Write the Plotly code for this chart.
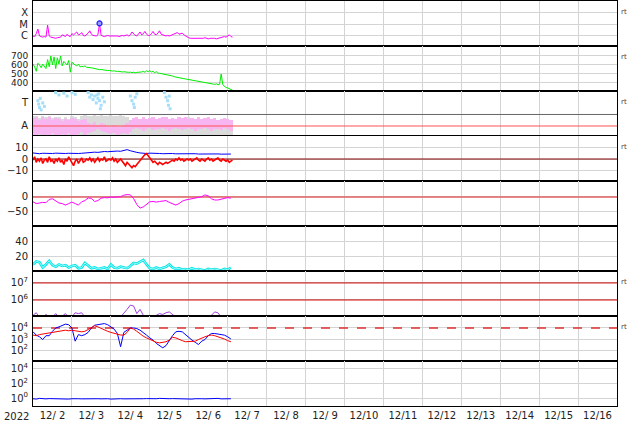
import numpy as np
import pandas as pd
import plotly.graph_objects as go
from plotly.subplots import make_subplots

# ---------------- time base ----------------
T0 = pd.Timestamp("2022-12-02 00:00")
T_END = pd.Timestamp("2022-12-17 00:00")
t1 = T0 + pd.to_timedelta(np.arange(124), unit="h")        # hourly
t2 = T0 + pd.to_timedelta(np.arange(0, 124, 2), unit="h")  # 2-hourly

# ---------------- data ----------------
# Panel 1: X-ray flux (log10 W/m2), hourly
xray_log = [-6.0, -6.05, -5.8, -5.4, -6.0, -6.05, -6.1, -6.05, -6.1, -5.05,
            -6.0, -6.1, -6.15, -6.2, -6.2, -6.15, -6.15, -6.1, -5.9, -6.0,
            -6.05, -5.85, -6.0, -6.05, -5.8, -5.9, -5.75, -5.65, -5.9, -5.85,
            -5.7, -5.95, -6.0, -5.9, -5.75, -5.55, -5.85, -5.95, -6.0, -6.0,
            -5.9, -4.95, -5.95, -6.0, -6.05, -6.0, -5.95, -6.0, -6.0, -5.95,
            -6.0, -5.95, -6.0, -6.05, -6.0, -5.95, -6.0, -5.95, -5.9, -6.0,
            -5.9, -5.65, -5.85, -5.95, -6.0, -5.85, -5.65, -5.9, -5.8, -5.6,
            -5.85, -5.95, -5.95, -5.8, -5.6, -5.85, -5.9, -5.75, -5.55, -5.85,
            -5.9, -5.95, -6.0, -5.95, -6.0, -5.95, -5.9, -5.85, -5.8, -5.7,
            -5.85, -5.8, -5.75, -5.9, -6.0, -6.1, -6.15, -6.2, -6.2, -6.25,
            -6.2, -6.25, -6.2, -6.2, -6.25, -6.2, -6.15, -6.2, -6.25, -6.2,
            -6.2, -6.15, -6.2, -6.25, -6.2, -6.2, -6.15, -6.1, -6.05, -6.1,
            -6.0, -5.9, -6.05, -6.1]
flare_time = [T0 + pd.Timedelta(hours=41)]
flare_log = [-4.9]

# Panel 2: solar wind speed (km/s), hourly
speed = [610, 580, 530, 620, 600, 570, 610, 590, 560,
         660, 580, 700, 600, 690, 560, 680, 610, 700, 590,
         640, 620, 600, 650, 520, 630, 610, 600, 590, 610, 580,
         585, 580, 590, 575, 570, 572, 568, 565, 560, 562, 555, 548,
         550, 545, 545, 540, 538, 540, 535, 532, 535, 530, 528, 530, 525, 522, 525, 520, 522, 518, 520,
         515, 520, 512, 518, 520, 515, 522, 530, 520, 535, 525, 540, 520, 530, 515, 525, 510, 508,
         505, 500, 500, 495, 490, 485, 480, 478, 470, 465, 462, 458, 455, 452, 448, 445, 442,
         440, 435, 432, 428, 425, 420, 418, 415, 410, 408, 405, 400, 398, 395, 390, 388,
         385, 390, 380, 385, 500, 380, 360, 350, 345, 335, 330, 320]

# Panel 3: A / T classification bands, 2-hourly (low, high)
pink_low = [0.2, 0.15, 0.3, 0.1, 0.25, 0.2, 0.35, 0.15, 0.2, 0.3,
            0.25, 0.4, 0.2, 0.15, 0.3, 0.5, 0.2, 0.35, 0.5, 0.6,
            0.7, 0.6, 0.5, 0.4, 0.3, 0.35, 0.25, 0.3, 0.4, 0.3,
            0.5, 0.7, 0.8, 0.75, 0.6, 0.7, 0.8, 0.65, 0.7, 0.75,
            0.8, 0.7, 0.6, 0.75, 0.8, 0.7, 0.65, 0.75, 0.8, 0.7,
            0.6, 0.7, 0.75, 0.8, 0.7, 0.6, 0.75, 0.7, 0.65, 0.8,
            0.7, 0.6]
pink_high = [1.7, 1.8, 1.5, 1.75, 1.6, 1.8, 1.55, 1.7, 1.6, 1.45,
             1.65, 1.5, 1.7, 1.6, 1.4, 1.55, 1.65, 1.3, 1.2, 1.35,
             1.1, 1.25, 1.2, 1.0, 0.9, 1.1, 1.0, 0.95, 1.05, 1.3,
             1.5, 1.7, 1.75, 1.6, 1.8, 1.65, 1.7, 1.75, 1.6, 1.7,
             1.75, 1.8, 1.65, 1.7, 1.6, 1.75, 1.7, 1.8, 1.6, 1.7,
             1.65, 1.75, 1.6, 1.7, 1.8, 1.6, 1.7, 1.55, 1.65, 1.7,
             1.6, 1.5]
gray_low = [0.2, 0.15, 0.2, 0.25, 0.2, 0.15, 0.2, 0.2, 0.25, 0.2,
            0.15, 0.2, 0.2, 0.25, 0.2, 0.15, 0.2, 0.2, 0.25, 0.2,
            0.15, 0.2, 0.2, 0.25, 0.2, 0.15, 0.2, 0.2, 0.25, 0.2,
            0.15, 0.2, 0.2, 0.25, 0.2, 0.15, 0.2, 0.2, 0.25, 0.2,
            0.15, 0.2, 0.2, 0.25, 0.2, 0.15, 0.2, 0.2, 0.25, 0.2,
            0.15, 0.2, 0.2, 0.25, 0.2, 0.15, 0.2, 0.2, 0.25, 0.2,
            0.15, 0.2]
gray_high = [1.85, 1.9, 1.7, 1.85, 1.75, 1.9, 1.7, 1.8, 1.75, 1.6,
             1.8, 1.65, 1.85, 1.75, 1.6, 1.9, 1.95, 1.85, 1.9, 1.95,
             1.9, 1.95, 1.85, 1.9, 1.95, 1.9, 1.85, 1.95, 1.9, 1.8,
             1.1, 0.9, 0.85, 0.9, 1.0, 0.85, 0.9, 0.95, 0.85, 0.9,
             0.9, 0.85, 0.95, 0.9, 1.0, 0.9, 0.85, 1.6, 1.8, 0.9,
             0.85, 0.9, 0.95, 0.85, 0.9, 1.0, 0.85, 0.9, 0.95, 0.9,
             0.85, 0.9]
t_dots_hours = [3, 3.5, 4, 4.5, 5, 6, 7,
                14, 16, 19, 21, 24, 26,
                34, 35, 36, 37, 38, 39, 39.5, 40, 40.5, 41, 41.5, 42, 43, 44,
                60, 61, 62, 62.5, 63, 64,
                81, 82, 83, 83.5, 84, 84.5]
t_dots_level = [3.2, 2.9, 2.6, 3.4, 2.4, 3.0, 2.7,
                3.9, 3.7, 3.85, 3.6, 3.9, 3.75,
                3.9, 3.5, 3.7, 3.3, 3.6, 3.0, 3.7, 3.4, 3.8, 3.2, 2.5, 2.8, 3.5, 3.1,
                3.6, 3.2, 2.9, 2.6, 3.5, 3.8,
                3.9, 3.5, 3.2, 2.8, 3.6, 2.5]

# Panel 4: IMF Bt (2-hourly) and Bz (hourly), nT
bt = [5.5, 5, 4.8, 5.2, 5, 4.6, 5, 5.3, 5, 4.8, 5,
      5.2, 5, 4.8, 5, 5.2, 5.5, 5.8, 6, 6.2, 6,
      6.5, 6.8, 6.6, 7, 6.8, 7.2, 7, 7.5, 8.5, 7.5,
      6.5, 6, 5.5, 5.2, 5, 5.3, 5, 5.2, 5, 4.8,
      5, 4.8, 5, 4.7, 4.8, 4.6, 4.8, 4.5, 4.6, 4.8,
      4.5, 4.6, 4.4, 4.5, 4.8, 4.5, 4.6, 4.4, 4.5, 4.3, 4.5]
bz = [-1, 2, -3, 0, -2, 1, -4, -1, 0, -3, 2, -2,
      -1, -4, 0, -2, 1, -3, -1, -5, 0, -2, 2, -1,
      -3, -6, -2, 0, -4, -1, 1, -3, -2, 0, -1, 1,
      -2, 0, -3, -1, 1, -2, 0, -1, 2, -2, -1, 0,
      -1, 1, -2, 0, -3, -1, 0, -2, -4, -6, -3, -5,
      -7, -8, -6, -7, -5, -3, -1, 1, 3, 4, 5, 3,
      1, -1, -3, -2, -4, -5, -3, -4, -5, -4, -3, -4,
      -3, -2, -1, -2, 0, -1, 1, -1, 0, -2, -1, 0,
      -1, 0, -2, -1, 0, 1, -1, -2, 0, -1, -2, 0,
      1, -1, 0, -2, -1, 0, 1, -1, -2, 0, -1, -2,
      -1, -3, -2, -1]

# Panel 5: Dst (nT), 2-hourly
dst = [-16, -22, -20, -18, -19, -8, -6, -12, -20, -22,
       -27, -22, -17, -22, -27, -16, -12, -3, -5, -15,
       -12, -4, -2, -3, 0, -1, 0, 1, 6, 8,
       7, -5, -25, -37, -33, -25, -16, -15, -17, -15,
       -14, -12, -18, -22, -27, -22, -14, -10, -8, -5,
       -3, -1, 1, 7, 4, -6, -10, -10, -8, -5,
       -2, -4]

# Panel 6: density, 2-hourly
density = [10, 14, 13, 6, 10, 15, 9, 7, 10, 8,
           9, 6, 8, 9, 5, 6, 12, 8, 5, 6,
           4, 5, 6, 4, 10, 6, 5, 7, 6, 5,
           8, 12, 11, 14, 16, 10, 5, 4, 6, 4,
           5, 7, 10, 6, 4, 5, 3, 4, 3, 5,
           3, 4, 3, 2, 4, 3, 4, 3, 2, 4,
           3, 6]

# Panel 7: electron flux, log10, 2-hourly
e_flux_log = [5.1, 5.25, 5.0, 5.0, 5.15, 5.0, 5.0, 5.2, 5.0, 5.05,
              5.2, 5.0, 5.0, 5.25, 5.2, 5.25, 5.0, 4.95, 4.9, 4.9,
              4.9, 4.9, 4.9, 4.9, 4.9, 4.9, 4.95, 5.0, 5.2, 5.45,
              5.7, 5.65, 5.2, 5.45, 5.1, 4.95, 4.9, 4.9, 5.1, 5.2,
              5.15, 5.25, 5.3, 5.15, 5.0, 4.95, 4.9, 4.9, 4.9, 4.9,
              4.9, 4.95, 5.1, 5.0, 4.95, 5.1, 5.3, 5.25, 5.0, 4.95,
              4.9, 4.9]

# Panel 8: two flux series, log10, 2-hourly
flux_blue_log = [3.66, 3.35, 3.2, 2.95, 3.3, 3.3, 3.7, 4.0, 4.1, 4.25,
                 4.35, 4.3, 4.0, 2.8, 3.4, 3.3, 3.4, 3.6, 4.0, 4.25,
                 4.3, 4.4, 4.4, 4.3, 4.1, 3.9, 3.5, 2.3, 3.6, 3.8,
                 4.0, 4.0, 3.95, 3.8, 3.6, 3.35, 3.1, 2.9, 2.6, 2.4,
                 2.2, 2.4, 2.9, 3.3, 3.65, 3.7, 3.65, 3.4, 3.1, 2.9,
                 2.7, 2.5, 2.8, 2.95, 3.3, 3.5, 3.5, 3.45, 3.45, 3.35,
                 3.2, 3.0]
flux_red_log = [3.36, 3.3, 3.4, 3.45, 3.5, 3.55, 3.6, 3.6, 3.7, 3.75,
                3.8, 3.75, 3.8, 3.75, 3.7, 3.65, 3.7, 3.85, 4.05, 4.2,
                4.1, 3.95, 3.8, 3.7, 3.6, 3.5, 3.45, 3.36, 3.35, 3.6,
                4.0, 3.9, 3.7, 3.45, 3.25, 3.1, 2.95, 2.85, 2.7, 2.65,
                2.7, 2.75, 2.9, 3.15, 3.1, 2.95, 2.85, 2.75, 2.75, 2.75,
                2.8, 2.95, 3.1, 3.2, 3.3, 3.36, 3.3, 3.2, 3.15, 3.0,
                2.85, 2.75]

# Panel 9: flux near 10^0, log10, 2-hourly
low_flux_log = [-0.1, -0.15, -0.05, -0.1, -0.12, -0.08, -0.1, -0.05, -0.12, -0.1,
                -0.08, -0.15, -0.1, -0.05, -0.1, -0.12, -0.1, -0.08, -0.1, -0.05,
                -0.1, -0.12, -0.08, -0.1, -0.15, -0.1, -0.05, -0.1, -0.12, -0.1,
                -0.08, -0.1, -0.05, -0.12, -0.1, -0.08, -0.1, -0.15, -0.1, -0.05,
                -0.1, -0.12, -0.1, -0.08, -0.1, -0.05, -0.12, -0.1, -0.08, -0.15,
                -0.1, -0.05, -0.1, -0.12, -0.1, -0.08, -0.1, -0.05, -0.12, -0.1,
                -0.08, -0.1]

# reference levels
A_LEVEL = 1
AT_DIVIDER = 2
ZERO = 0
E_THRESH = [1e6, 1e7]
P_THRESH = 1e4

# ---------------- figure ----------------
fig = make_subplots(rows=9, cols=1, shared_xaxes=True, vertical_spacing=0)
span = [T0, T_END]


def hline(y, row, color, width=1, dash="solid"):
    fig.add_trace(go.Scatter(x=span, y=[y, y], mode="lines",
                             line=dict(color=color, width=width, dash=dash),
                             hoverinfo="skip"), row=row, col=1)


# 1 X-ray
fig.add_trace(go.Scatter(x=t1, y=xray_log, mode="lines",
                         line=dict(color="#ff00ff", width=1)), row=1, col=1)
fig.add_trace(go.Scatter(x=flare_time, y=flare_log, mode="markers",
                         marker=dict(symbol="circle", size=5, color="#9a9aff",
                                     line=dict(color="#2020ff", width=1.2))), row=1, col=1)

# 2 speed
fig.add_trace(go.Scatter(x=t1, y=speed, mode="lines",
                         line=dict(color="#00ee00", width=1)), row=2, col=1)

# 3 A/T
hline(AT_DIVIDER, 3, "#666666", 1)
fig.add_trace(go.Bar(x=t2, y=[h - l for l, h in zip(gray_low, gray_high)], base=gray_low,
                     width=7200000, marker=dict(color="#d8d8d8", line=dict(width=0)),
                     opacity=0.9), row=3, col=1)
fig.add_trace(go.Bar(x=t2, y=[h - l for l, h in zip(pink_low, pink_high)], base=pink_low,
                     width=7200000, marker=dict(color="#f7b5f2", line=dict(width=0))),
              row=3, col=1)
fig.add_trace(go.Scatter(x=T0 + pd.to_timedelta(t_dots_hours, unit="h"), y=t_dots_level,
                         mode="markers", marker=dict(symbol="square", size=3, color="#a6defa")),
              row=3, col=1)
hline(A_LEVEL, 3, "#ff5050", 1)

# 4 IMF
hline(ZERO, 4, "#800000", 1)
fig.add_trace(go.Scatter(x=t2, y=bt, mode="lines", line=dict(color="#0000ff", width=1)), row=4, col=1)
fig.add_trace(go.Scatter(x=t1, y=bz, mode="lines", line=dict(color="#ff0000", width=1.6)), row=4, col=1)

# 5 Dst
hline(ZERO, 5, "#e06060", 1.5)
fig.add_trace(go.Scatter(x=t2, y=dst, mode="lines", line=dict(color="#ff00ff", width=1)), row=5, col=1)

# 6 density
fig.add_trace(go.Scatter(x=t2, y=density, mode="lines", line=dict(color="#00e5e5", width=2.6)), row=6, col=1)
fig.add_trace(go.Scatter(x=t2, y=density, mode="lines", line=dict(color="#c8ffff", width=0.8)), row=6, col=1)

# 7 electrons
for v in E_THRESH:
    hline(v, 7, "#cc0000", 1)
fig.add_trace(go.Scatter(x=t2, y=[10 ** v for v in e_flux_log], mode="lines",
                         line=dict(color="#a040e0", width=1)), row=7, col=1)

# 8 flux
hline(P_THRESH, 8, "#e03030", 1.3, "dash")
fig.add_trace(go.Scatter(x=t2, y=[10 ** v for v in flux_blue_log], mode="lines",
                         line=dict(color="#0000ff", width=1)), row=8, col=1)
fig.add_trace(go.Scatter(x=t2, y=[10 ** v for v in flux_red_log], mode="lines",
                         line=dict(color="#ff0000", width=1)), row=8, col=1)

# 9 low flux
fig.add_trace(go.Scatter(x=t2, y=[10 ** v for v in low_flux_log], mode="lines",
                         line=dict(color="#0000ff", width=1)), row=9, col=1)

# ---------------- axes ----------------
FONT = "DejaVu Sans, sans-serif"
fig.update_xaxes(range=span, type="date", tick0=T0, dtick=86400000,
                 ticklabelmode="period", tickformat="%m/%e",
                 showgrid=True, gridcolor="#d4d4d4", gridwidth=1,
                 showline=True, linecolor="black", linewidth=1, mirror=True,
                 ticks="", zeroline=False, automargin=False)
fig.update_yaxes(showline=True, linecolor="black", linewidth=1, mirror=True,
                 ticks="", zeroline=False, showgrid=True, gridcolor="#d4d4d4",
                 gridwidth=1, ticklabelstandoff=2, automargin=False)

sup = lambda n: "10<sup>%d</sup>" % n
ycfg = {
    1: dict(range=[-6.87, -2.96], tickvals=[-6, -5, -4], ticktext=["C", "M", "X"]),
    2: dict(range=[311, 811], tickvals=[400, 500, 600, 700], tickfont=dict(size=9)),
    3: dict(range=[0.13, 4.04], tickvals=[1, 3], ticktext=["A", "T"], showgrid=False),
    4: dict(range=[-20, 20.9], tickvals=[-10, 0, 10]),
    5: dict(range=[-96.7, 53.3], tickvals=[-50, 0]),
    6: dict(range=[1.3, 61.3], tickvals=[20, 40]),
    7: dict(type="log", range=[5.06, 7.7], tickvals=[1e6, 1e7], ticktext=[sup(6), sup(7)]),
    8: dict(type="log", range=[1.0, 5.09], tickvals=[1e2, 1e3, 1e4],
            ticktext=[sup(2), sup(3), sup(4)]),
    9: dict(type="log", range=[-1.1, 5.1], tickvals=[1e0, 1e2, 1e4],
            ticktext=[sup(0), sup(2), sup(4)]),
}
for r, cfg in ycfg.items():
    fig.update_yaxes(row=r, col=1, **cfg)

# ---------------- annotations ----------------
annos = [dict(text="2022", xref="paper", yref="paper", x=-0.029, y=-0.026,
              xanchor="center", yanchor="middle", showarrow=False,
              font=dict(size=10, color="#222222", family=FONT))]
for r in [1, 2, 3, 4, 7, 8]:
    ytop = 1 - (r - 1) / 9
    annos.append(dict(text="rt", xref="paper", yref="paper", x=1.004, y=ytop - 0.027,
                      xanchor="left", yanchor="middle", showarrow=False,
                      font=dict(size=7, color="#444444", family=FONT)))

fig.update_layout(
    width=634, height=424,
    margin=dict(l=33, r=17, t=1, b=18, autoexpand=False),
    plot_bgcolor="white", paper_bgcolor="white",
    showlegend=False, barmode="overlay", bargap=0,
    font=dict(family=FONT, size=10, color="#222222"),
    annotations=annos,
)

fig.write_html("out.html", config={"displayModeBar": False},
               post_script="document.body.style.margin='0px';")
